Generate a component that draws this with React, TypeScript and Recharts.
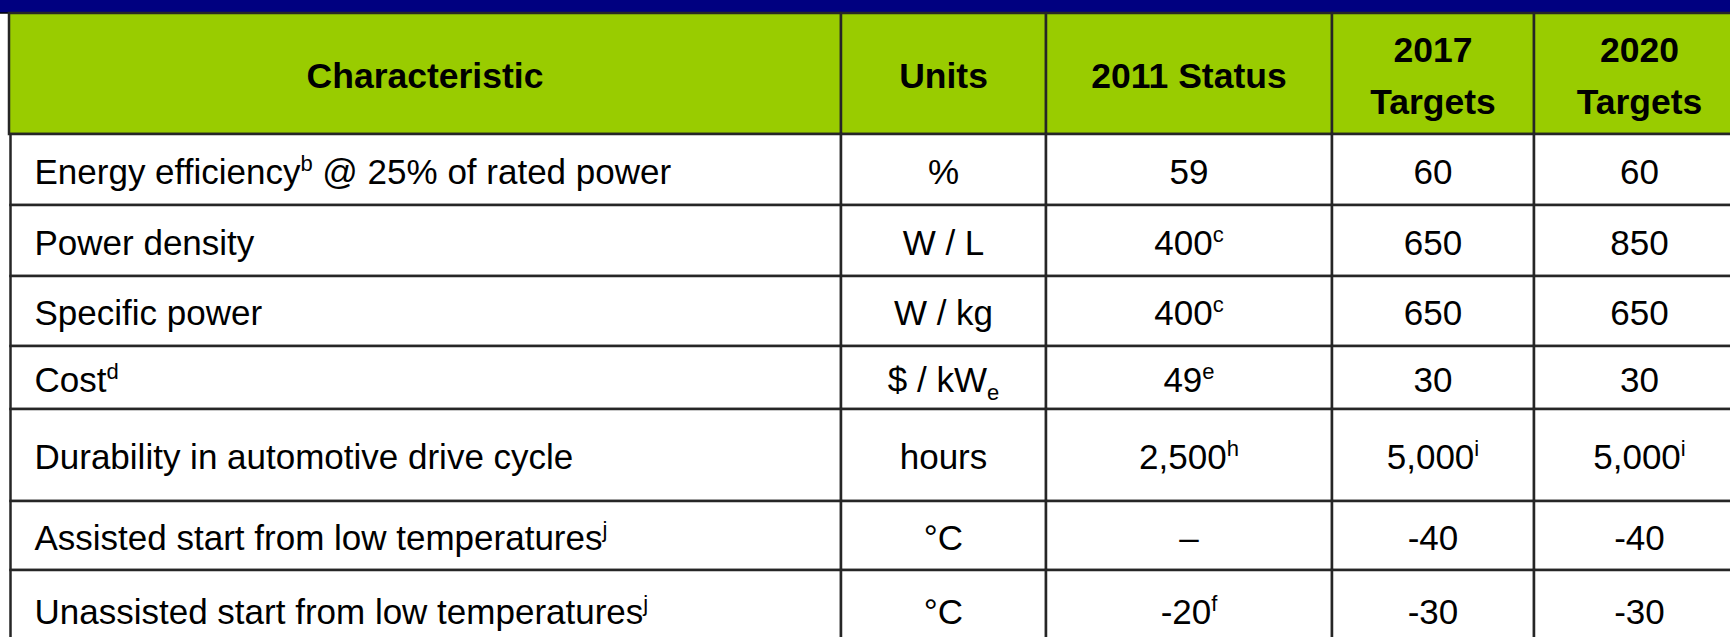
import React from 'react';
import { ComposedChart, XAxis, YAxis, ReferenceArea } from 'recharts';

// table content (^{x} = superscript, _{x} = subscript)
const headerLines = [
  ['Characteristic'],
  ['Units'],
  ['2011 Status'],
  ['2017', 'Targets'],
  ['2020', 'Targets'],
];

const characteristics = [
  'Energy efficiency^{b} @ 25% of rated power',
  'Power density',
  'Specific power',
  'Cost^{d}',
  'Durability in automotive drive cycle',
  'Assisted start from low temperatures^{j}',
  'Unassisted start from low temperatures^{j}',
];

const units = ['%', 'W / L', 'W / kg', '$ / kW_{e}', 'hours', '°C', '°C'];

const status2011 = ['59', '400^{c}', '400^{c}', '49^{e}', '2,500^{h}', '–', '-20^{f}'];

const targets2017 = ['60', '650', '650', '30', '5,000^{i}', '-40', '-30'];

const targets2020 = ['60', '850', '650', '30', '5,000^{i}', '-40', '-30'];

// layout
const W = 1730;
const H = 637;
const BAND_BOTTOM = 13;
const colEdges = [9, 841, 1046, 1332, 1534, 1745];
const rowEdges = [134, 205, 276, 346, 409, 501, 570, 650];
const FONT = "'Liberation Sans', Arial, Helvetica, sans-serif";
const BODY_SIZE = 35;
const HEAD_SIZE = 35.5;
const SMALL_SIZE = 22;
const LINE_COLOR = '#262626';

const columns = [characteristics, units, status2011, targets2017, targets2020];

type Seg = { text: string; kind: 'normal' | 'sup' | 'sub' };

const parseRich = (s: string): Seg[] => {
  const out: Seg[] = [];
  const re = /([\^_])\{([^}]*)\}/g;
  let last = 0;
  let m: RegExpExecArray | null;
  while ((m = re.exec(s)) !== null) {
    if (m.index > last) out.push({ text: s.slice(last, m.index), kind: 'normal' });
    out.push({ text: m[2], kind: m[1] === '^' ? 'sup' : 'sub' });
    last = m.index + m[0].length;
  }
  if (last < s.length) out.push({ text: s.slice(last), kind: 'normal' });
  return out;
};

const renderSegs = (segs: Seg[], size: number) => {
  let shift = 0;
  return segs.map((seg, i) => {
    const target = seg.kind === 'sup' ? -13 : seg.kind === 'sub' ? 8 : 0;
    const dy = target - shift;
    shift = target;
    return (
      <tspan key={i} dy={dy} fontSize={seg.kind === 'normal' ? size : SMALL_SIZE}>
        {seg.text}
      </tspan>
    );
  });
};

const CellText = (props: any) => {
  const { viewBox, lines, anchor, bold } = props;
  if (!viewBox) return null;
  const { x, y, width, height } = viewBox;
  const size = bold ? HEAD_SIZE : BODY_SIZE;
  const tx = anchor === 'start' ? x + 24 : x + width / 2;
  const cy = y + height / 2;
  const n = lines.length;
  return (
    <text
      textAnchor={anchor}
      fontFamily={FONT}
      fontSize={size}
      fontWeight={bold ? 'bold' : 'normal'}
      fill="#000"
    >
      {lines.map((line: string, li: number) => (
        <tspan key={li} x={tx} y={cy + 14 + (li - (n - 1) / 2) * 52}>
          {renderSegs(parseRich(line), size)}
        </tspan>
      ))}
    </text>
  );
};

const rows = characteristics.map((c, i) => ({ name: c, idx: i }));

export default function App() {
  return (
    <div style={{ position: 'absolute', left: 0, top: 0, width: W, height: H, background: '#fff' }}>
      <ComposedChart width={W} height={H} data={rows} margin={{ top: 0, right: 0, bottom: 0, left: 0 }}>
        <XAxis type="number" dataKey="idx" hide domain={[0, W]} allowDataOverflow />
        <YAxis type="number" hide domain={[0, H]} reversed allowDataOverflow />
        <ReferenceArea
          x1={-5}
          x2={W + 5}
          y1={-5}
          y2={BAND_BOTTOM}
          fill="#000080"
          fillOpacity={1}
          stroke="#000"
          strokeWidth={1.5}
          ifOverflow="visible"
        />
        {headerLines.map((lines, c) => (
          <ReferenceArea
            key={`h${c}`}
            x1={colEdges[c]}
            x2={colEdges[c + 1]}
            y1={BAND_BOTTOM}
            y2={rowEdges[0]}
            fill="#99cc00"
            fillOpacity={1}
            stroke={LINE_COLOR}
            strokeWidth={2.5}
            ifOverflow="visible"
            label={<CellText lines={lines} anchor="middle" bold />}
          />
        ))}
        {rows.map((row, r) =>
          columns.map((col, c) => (
            <ReferenceArea
              key={`c${r}-${c}`}
              x1={c === 0 ? colEdges[0] + 1.5 : colEdges[c]}
              x2={colEdges[c + 1]}
              y1={rowEdges[r]}
              y2={rowEdges[r + 1]}
              fill="#fff"
              fillOpacity={1}
              stroke={LINE_COLOR}
              strokeWidth={2.5}
              ifOverflow="visible"
              label={<CellText lines={[col[row.idx]]} anchor={c === 0 ? 'start' : 'middle'} />}
            />
          ))
        )}
      </ComposedChart>
    </div>
  );
}
